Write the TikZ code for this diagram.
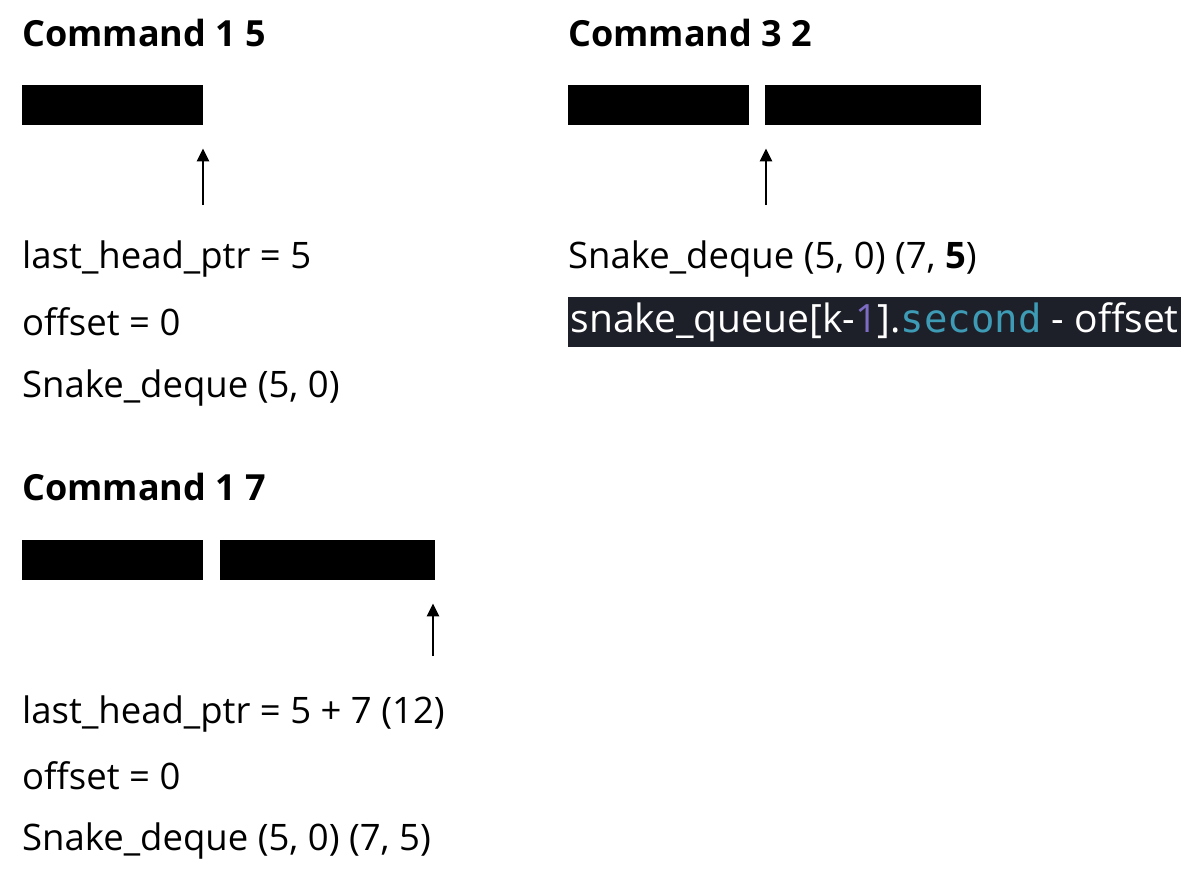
\documentclass[tikz,border=0pt]{standalone}
\usepackage{fontspec}
\setmainfont{Open Sans}
\newfontfamily\codefont{DejaVu Sans Mono}
\usetikzlibrary{arrows.meta}
\definecolor{codebg}{HTML}{1E2029}
\definecolor{codenum}{HTML}{7E6CC4}
\definecolor{codekey}{HTML}{3E9BB6}
\begin{document}
\begin{tikzpicture}[x=1pt, y=-1pt]
		\tikzset{title/.style={anchor=west, inner sep=0, font=\fontsize{36}{40}\selectfont\bfseries}};
		\tikzset{txt/.style={anchor=west, inner sep=0, font=\fontsize{36.5}{40}\selectfont}};
		\tikzset{blk/.style={fill=black, inner sep=0, minimum height=40, anchor=north west}};
		\tikzset{ptr/.style={line width=2.5, -{Triangle[width=12, length=13]}, shorten >=23}};

		\useasboundingbox (0, 0) rectangle (1204, 884);

		% Command 1 5
		\node[title] (c15) at (22, 33) {Command 1 5};
		\node[blk, minimum width=181] (b1) at (22, 85) {};
		\coordinate (p1) at (203, 205);
		\node[txt] (h1) at (22, 259) {last\_head\_ptr = 5};
		\node[txt] (o1) at (22, 322) {offset = 0};
		\node[txt] (s1) at (22, 388) {Snake\_deque (5, 0)};

		\draw[ptr] (p1) -- (p1 |- b1.south);

		% Command 1 7
		\node[title] (c17) at (22, 487) {Command 1 7};
		\node[blk, minimum width=181] (b2) at (22, 540) {};
		\node[blk, minimum width=215] (b3) at (220, 540) {};
		\coordinate (p2) at (433, 656);
		\node[txt] (h2) at (22, 714) {last\_head\_ptr = 5 + 7 (12)};
		\node[txt] (o2) at (22, 776) {offset = 0};
		\node[txt] (s2) at (22, 841) {Snake\_deque (5, 0) (7, 5)};

		\draw[ptr] (p2) -- (p2 |- b3.south);

		% Command 3 2
		\node[title] (c32) at (568, 33) {Command 3 2};
		\node[blk, minimum width=181] (b4) at (568, 85) {};
		\node[blk, minimum width=216] (b5) at (765, 85) {};
		\coordinate (p3) at (766, 205);
		\node[txt] (s3) at (568, 259) {Snake\_deque (5, 0) (7, \textbf{5})};
		\node[anchor=west, fill=codebg, text=white, minimum height=50, minimum width=613, inner xsep=0, inner ysep=0,
			text height=29, text depth=9, font=\fontsize{39}{40}\selectfont]
			(code) at (568, 322) {snake\_queue[k-\textcolor{codenum}{1}].\textcolor{codekey}{\codefont second} - offset};

		\draw[ptr] (p3) -- (p3 |- b5.south);
	\end{tikzpicture}
\end{document}
